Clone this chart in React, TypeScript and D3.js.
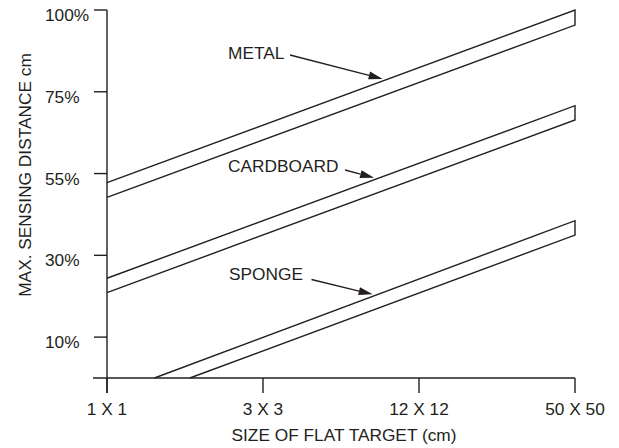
import React from "react";
import * as d3 from "d3";

// ---- data ----
const xCategories = ["1 X 1", "3 X 3", "12 X 12", "50 X 50"];
const yTickValues = [10, 30, 55, 75, 100];
const yTickLabels = ["10%", "30%", "55%", "75%", "100%"];
const materials = ["METAL", "CARDBOARD", "SPONGE"];
// band edges as [x category index, % of max sensing distance]
const metalUpper: [number, number][] = [[0, 52.2], [3, 100]];
const metalLower: [number, number][] = [[0, 47.7], [3, 95.4]];
const cardboardUpper: [number, number][] = [[0, 24.4], [3, 71.6]];
const cardboardLower: [number, number][] = [[0, 20.9], [3, 68.1]];
const spongeUpper: [number, number][] = [[0.304, 0], [3, 40.6]];
const spongeLower: [number, number][] = [[0.531, 0], [3, 36.2]];
// where each label's arrow points (x category index on the upper edge)
const arrowTipAt = [1.767, 1.712, 1.703];

const W = 619;
const H = 448;
const INK = "#231f20";
const FONT = "'Liberation Sans', Arial, Helvetica, sans-serif";
const FS = 17.3;

export default function App() {
  const x = d3.scaleLinear().domain([0, xCategories.length - 1]).range([107, 575]);
  const levels = [0, ...yTickValues];
  // tick levels are evenly spaced; the origin sits half a step below the first tick
  const idx = d3.scaleLinear().domain([-0.5, yTickValues.length - 1]).range([378, 10]);
  const yy = d3
    .scaleLinear()
    .domain(levels)
    .range(levels.map((_, i) => idx(i === 0 ? -0.5 : i - 1)));

  const bands = [
    [metalUpper, metalLower],
    [cardboardUpper, cardboardLower],
    [spongeUpper, spongeLower],
  ];

  const line = d3
    .line<[number, number]>()
    .x((d) => x(d[0]))
    .y((d) => yy(d[1]));

  const bandPath = (up: [number, number][], lo: [number, number][]) =>
    line([up[0], up[1], lo[1], lo[0]]) || "";

  const upperAt = (up: [number, number][], t: number) => {
    const x0 = x(up[0][0]), y0 = yy(up[0][1]);
    const x1 = x(up[1][0]), y1 = yy(up[1][1]);
    const px = x(t);
    return [px, y0 + ((px - x0) / (x1 - x0)) * (y1 - y0)];
  };

  // label layout (positions only)
  const labelLayout = [
    { lx: 228, ly: 59, sx: 290, sy: 55 },
    { lx: 228, ly: 171.5, sx: 345, sy: 170 },
    { lx: 229, ly: 280, sx: 311.5, sy: 279.5 },
  ];

  const yAxisX = x(0);
  const xAxisY = yy(0);

  return (
    <svg
      width={W}
      height={H}
      style={{ position: "absolute", left: 0, top: 0, background: "#fff" }}
      fontFamily={FONT}
    >
      <rect width={W} height={H} fill="#fff" />
      {/* axes */}
      <line x1={yAxisX} x2={yAxisX} y1={yy(100)} y2={xAxisY + 15} stroke={INK} strokeWidth={1.4} />
      <line x1={93} x2={x(3)} y1={xAxisY} y2={xAxisY} stroke={INK} strokeWidth={1.4} />
      {yTickValues.map((v, i) => (
        <g key={"yt" + i}>
          <line x1={94} x2={yAxisX} y1={yy(v)} y2={yy(v)} stroke={INK} strokeWidth={1.4} />
          <text x={45} y={yy(v) + 11} fontSize={FS} fill={INK}>
            {yTickLabels[i]}
          </text>
        </g>
      ))}
      {xCategories.map((c, i) => (
        <g key={"xt" + i}>
          <line x1={x(i)} x2={x(i)} y1={xAxisY} y2={xAxisY + 15} stroke={INK} strokeWidth={1.4} />
          <text x={x(i)} y={415} fontSize={FS} textAnchor="middle" fill={INK}>
            {c}
          </text>
        </g>
      ))}
      <text x={344} y={441} fontSize={FS} textAnchor="middle" fill={INK}>
        SIZE OF FLAT TARGET (cm)
      </text>
      <text
        transform="translate(31,175) rotate(-90)"
        fontSize={FS}
        textAnchor="middle"
        fill={INK}
      >
        MAX. SENSING DISTANCE cm
      </text>

      {/* bands */}
      {bands.map(([up, lo], i) => (
        <path key={"b" + i} d={bandPath(up, lo)} fill="none" stroke={INK} strokeWidth={1.4} strokeLinejoin="miter" />
      ))}

      {/* labels with arrows */}
      {materials.map((m, i) => {
        const L = labelLayout[i];
        const [tx, tyLine] = upperAt(bands[i][0], arrowTipAt[i]);
        const ty = tyLine - 2;
        const dx = tx - L.sx, dy = ty - L.sy;
        const len = Math.hypot(dx, dy);
        const ux = dx / len, uy = dy / len;
        const hl = 14, hw = 4;
        const bx = tx - ux * hl, by = ty - uy * hl;
        const nx = -uy, ny = ux;
        const head = `${tx},${ty} ${bx + nx * hw},${by + ny * hw} ${bx - nx * hw},${by - ny * hw}`;
        return (
          <g key={"l" + i}>
            <text x={L.lx} y={L.ly} fontSize={FS} fill={INK}>
              {m}
            </text>
            <line x1={L.sx} y1={L.sy} x2={bx} y2={by} stroke={INK} strokeWidth={1.3} />
            <polygon points={head} fill={INK} />
          </g>
        );
      })}
    </svg>
  );
}
